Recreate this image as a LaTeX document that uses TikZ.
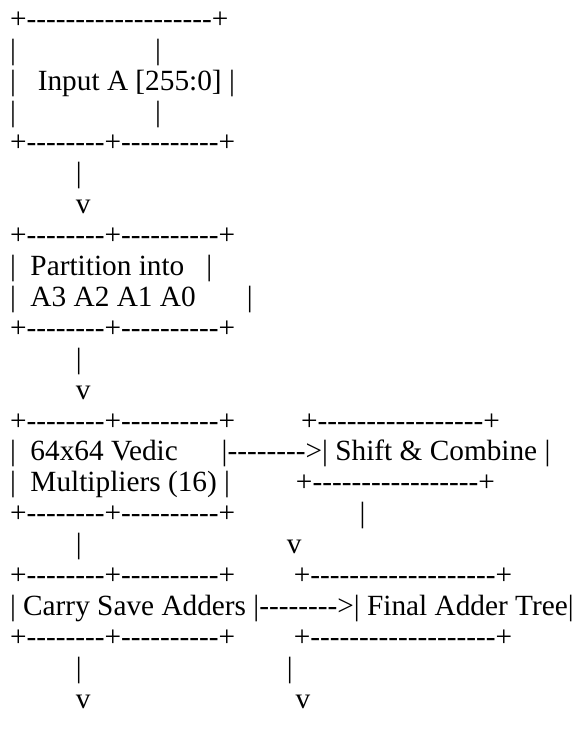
\documentclass[tikz,border=0pt]{standalone}
\usepackage{fontspec}
\setmainfont{Liberation Serif}
\newcount\hyc
\newcommand\hy[1]{\hyc=0 \loop\ifnum\hyc<#1 -\kern0pt\advance\hyc by 1 \repeat}
\newcommand\sps[1]{\kern#1\fontdimen2\font}
\tikzset{asc/.style={anchor=base west, inner sep=0pt, outer sep=0pt, text=black,
  font=\fontsize{29.3}{30.9}\selectfont}}
\begin{document}
\begin{tikzpicture}[x=1pt,y=1pt]
\useasboundingbox (0,0) rectangle (577,-740);
\fill[white] (0,0) rectangle (577,-740);
\def\bl#1{-28.3-30.9*(#1-1)}
\node[asc] (l1)  at (10,{\bl{1}})  {+\hy{19}+};
\node[asc] (l2)  at (10,{\bl{2}})  {|\sps{19}|};
\node[asc] (l3)  at (10,{\bl{3}})  {|\sps{3}Input A [255:0]\sps{1}|};
\node[asc] (l4)  at (10,{\bl{4}})  {|\sps{19}|};
\node[asc] (l5)  at (10,{\bl{5}})  {+\hy{8}+\hy{10}+};
\node[asc] (l6)  at (10,{\bl{6}})  {\sps{9}|};
\node[asc] (l7)  at (10,{\bl{7}})  {\sps{9}v};
\node[asc] (l8)  at (10,{\bl{8}})  {+\hy{8}+\hy{10}+};
\node[asc] (l9)  at (10,{\bl{9}})  {|\sps{2}Partition into\sps{3}|};
\node[asc] (l10) at (10,{\bl{10}}) {|\sps{2}A3 A2 A1 A0\sps{7}|};
\node[asc] (l11) at (10,{\bl{11}}) {+\hy{8}+\hy{10}+};
\node[asc] (l12) at (10,{\bl{12}}) {\sps{9}|};
\node[asc] (l13) at (10,{\bl{13}}) {\sps{9}v};
\node[asc] (l14) at (10,{\bl{14}}) {+\hy{8}+\hy{10}+\sps{9}+\hy{17}+};
\node[asc] (l15) at (10,{\bl{15}}) {|\sps{2}64x64 Vedic\sps{6}|\hy{8}>|\sps{1}Shift \& Combine\sps{1}|};
\node[asc] (l16) at (10,{\bl{16}}) {|\sps{2}Multipliers (16)\sps{1}|\sps{9}+\hy{17}+};
\node[asc] (l17) at (10,{\bl{17}}) {+\hy{8}+\hy{10}+\sps{17}|};
\node[asc] (l18) at (10,{\bl{18}}) {\sps{9}|\sps{28}v};
\node[asc] (l19) at (10,{\bl{19}}) {+\hy{8}+\hy{10}+\sps{8}+\hy{19}+};
\node[asc] (l20) at (10,{\bl{20}}) {|\sps{1}Carry Save Adders\sps{1}|\hy{8}>|\sps{1}Final Adder Tree|};
\node[asc] (l21) at (10,{\bl{21}}) {+\hy{8}+\hy{10}+\sps{8}+\hy{19}+};
\node[asc] (l22) at (10,{\bl{22}}) {\sps{9}|\sps{28}|};
\node[asc] (l23) at (10,{\bl{23}}) {\sps{9}v\sps{28}v};
\end{tikzpicture}
\end{document}
